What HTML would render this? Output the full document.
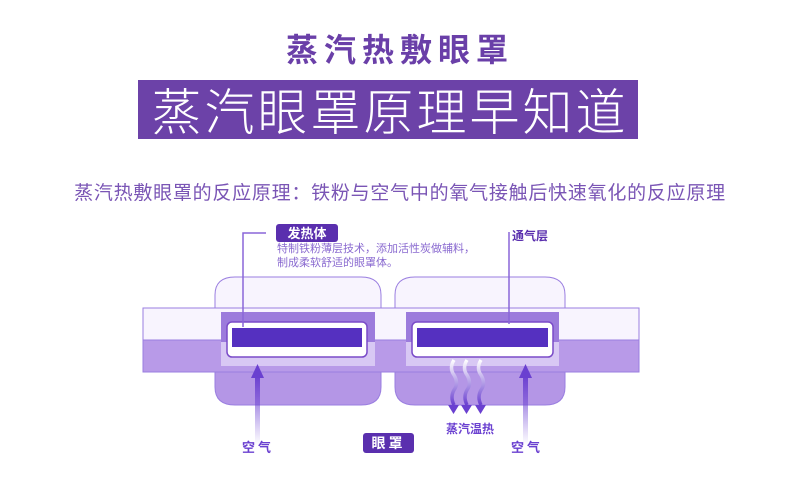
<!DOCTYPE html>
<html><head><meta charset="utf-8"><style>
html,body{margin:0;padding:0;background:#fff;}
svg{display:block;font-family:"Liberation Sans","Noto Sans CJK SC",sans-serif;}
</style></head><body>
<svg width="800" height="491" viewBox="0 0 800 491" xmlns="http://www.w3.org/2000/svg">
<defs>
<linearGradient id="ar" x1="0" y1="1" x2="0" y2="0">
<stop offset="0" stop-color="#7a52d8" stop-opacity="0"/>
<stop offset="1" stop-color="#6a40d0"/>
</linearGradient>
<linearGradient id="st" x1="0" y1="0" x2="0" y2="1">
<stop offset="0" stop-color="#fff"/>
<stop offset="1" stop-color="#6a40d0"/>
</linearGradient>
</defs>
<text x="400" y="61" text-anchor="middle" font-size="32" font-weight="bold" fill="#6a3fa8" letter-spacing="6">蒸汽热敷眼罩</text>
<rect x="138" y="80" width="500" height="59" fill="#6c42a8"/>
<text x="390" y="130" text-anchor="middle" font-size="50" font-weight="300" fill="#fff" letter-spacing="3">蒸汽眼罩原理早知道</text>
<text x="400" y="199" text-anchor="middle" font-size="19" fill="#7a55b5" letter-spacing="0.75">蒸汽热敷眼罩的反应原理：铁粉与空气中的氧气接触后快速氧化的反应原理</text>

<rect x="143" y="308" width="496" height="32" fill="#f8f4fe" stroke="#9a7ee0"/>
<rect x="143" y="340" width="496" height="32" fill="#b89ae8" stroke="#9a7ee0"/>
<g stroke="#9a7ee0" stroke-width="1">
<path d="M215 308 V295 Q215 277 235 277 H361 Q381 277 381 295 V308 Z" fill="#f8f4fe"/>
<path d="M215 372 V387 Q215 405 235 405 H361 Q381 405 381 387 V372 Z" fill="#b496e6"/>
<path d="M395 308 V295 Q395 277 415 277 H545 Q565 277 565 295 V308 Z" fill="#f8f4fe"/>
<path d="M395 372 V387 Q395 405 415 405 H545 Q565 405 565 387 V372 Z" fill="#b496e6"/>
</g>
<rect x="221" y="312" width="154" height="30" fill="#9c7bdc"/>
<rect x="221" y="342" width="154" height="24" fill="#d8c8f4"/>
<rect x="227" y="322" width="140" height="35" rx="5" fill="#fff" stroke="#7a4bc8" stroke-width="1.5"/>
<rect x="232" y="328" width="130" height="19" fill="#5530c0"/>
<rect x="406" y="312" width="153" height="30" fill="#9c7bdc"/>
<rect x="406" y="342" width="153" height="24" fill="#d8c8f4"/>
<rect x="412" y="322" width="141" height="35" rx="5" fill="#fff" stroke="#7a4bc8" stroke-width="1.5"/>
<rect x="417" y="328" width="131" height="19" fill="#5530c0"/>

<polyline points="266,233 243,233 243,327" fill="none" stroke="#8a66d8" stroke-width="1.5"/>
<rect x="276" y="224" width="62" height="18" rx="3" fill="#5a2fae"/>
<text x="307" y="238" text-anchor="middle" font-size="13" font-weight="bold" fill="#fff">发热体</text>
<text x="277" y="252" font-size="11" fill="#8a6ad0">特制铁粉薄层技术，添加活性炭做辅料，</text>
<text x="277" y="266" font-size="11" fill="#8a6ad0">制成柔软舒适的眼罩体。</text>
<line x1="509" y1="232" x2="509" y2="324" stroke="#8a66d8" stroke-width="1.5"/>
<text x="512" y="240" font-size="12" font-weight="bold" fill="#5a2fae">通气层</text>

<rect x="255" y="375" width="5" height="70" fill="url(#ar)"/>
<polygon points="257.5,364 251,378 264,378" fill="#6a40d0"/>
<rect x="523" y="375" width="5" height="70" fill="url(#ar)"/>
<polygon points="525.5,364 519,378 532,378" fill="#6a40d0"/>
<text x="242" y="452" font-size="13" font-weight="bold" fill="#6a40d0" letter-spacing="3">空气</text>
<text x="511" y="452" font-size="13" font-weight="bold" fill="#6a40d0" letter-spacing="3">空气</text>

<g fill="none" stroke="url(#st)" stroke-width="3.5">
<path d="M454 360 q-5 8 0 15 q5 8 0 15 q-4 7 0 15"/>
<path d="M467 360 q-5 8 0 15 q5 8 0 15 q-4 7 0 15"/>
<path d="M481 360 q-5 8 0 15 q5 8 0 15 q-4 7 0 15"/>
</g>
<polygon points="448,405 459,405 453.5,414" fill="#6a40d0"/>
<polygon points="461,405 472,405 466.5,414" fill="#6a40d0"/>
<polygon points="475,405 486,405 480.5,414" fill="#6a40d0"/>
<text x="446" y="433" font-size="12" font-weight="bold" fill="#6a40d0">蒸汽温热</text>
<rect x="363" y="433" width="51" height="20" rx="3" fill="#5a2fae"/>
<text x="388.5" y="448" text-anchor="middle" font-size="14" font-weight="bold" fill="#fff" letter-spacing="3">眼罩</text>
</svg>
</body></html>
